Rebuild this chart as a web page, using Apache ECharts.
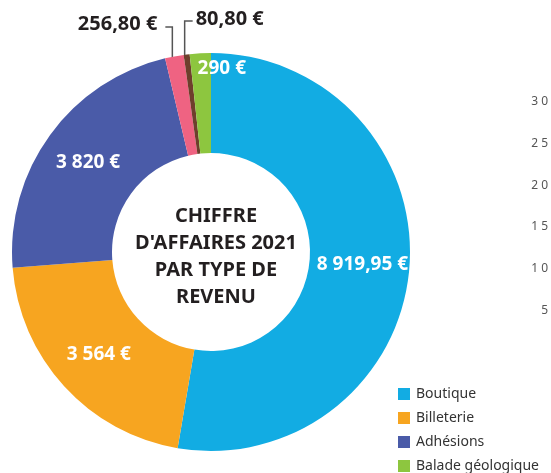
<!DOCTYPE html>
<html>
<head>
<meta charset="utf-8">
<script src="https://cdn.jsdelivr.net/npm/echarts@6/dist/echarts.min.js"></script>
<style>
  html, body { margin: 0; padding: 0; background: #fff; }
  #chart { width: 551px; height: 473px; }
</style>
</head>
<body>
<div id="chart"></div>
<script>
// données du chiffre d'affaires 2021
var categories = ['Boutique', 'Billeterie', 'Adhésions', 'Dons', 'Divers', 'Balade géologique'];
var values = [8919.95, 3564, 3820, 256.80, 80.80, 290];
var labels = ['8 919,95 €', '3 564 €', '3 820 €', '256,80 €', '80,80 €', '290 €'];
var legendOrder = ['Boutique', 'Billeterie', 'Adhésions', 'Balade géologique', 'Dons', 'Divers'];
// axe d'un autre graphique, coupé à droite
var axisTicks = [0, 5, 10, 15, 20, 25, 30];

var colors = ['#12ace3', '#f7a520', '#4a5ba8', '#ef6382', '#6e3f2c', '#8dc63f'];
var font = 'Noto Sans';

var myChart = echarts.init(document.getElementById('chart'));

var pieData = values.map(function (v, i) {
  var item = { name: categories[i], value: v, itemStyle: { color: colors[i] } };
  if (i === 3 || i === 4) {
    item.label = { position: 'outside', color: '#231f20', fontSize: 20 };
    item.labelLine = { show: true };
  }
  if (i === 5) {
    item.label = { offset: [19, -32] };
  }
  return item;
});

myChart.setOption({
  backgroundColor: '#fff',
  animation: false,
  title: {
    text: "CHIFFRE\nD'AFFAIRES 2021\nPAR TYPE DE\nREVENU",
    left: 211,
    top: 252,
    textAlign: 'center',
    textVerticalAlign: 'middle',
    textStyle: {
      fontFamily: font,
      fontWeight: 'bold',
      fontSize: 20,
      lineHeight: 27,
      color: '#231f20'
    }
  },
  legend: {
    orient: 'vertical',
    left: 393,
    top: 382,
    height: 200,
    itemWidth: 12,
    itemHeight: 12,
    itemGap: 10,
    icon: 'rect',
    data: legendOrder,
    textStyle: { fontFamily: font, fontSize: 14, color: '#333', padding: [0, 0, 0, 1] }
  },
  grid: { left: 550, top: 102, height: 250, width: 1 },
  xAxis: { type: 'value', show: false, min: 0, max: 1 },
  yAxis: {
    type: 'value',
    min: axisTicks[0],
    max: axisTicks[axisTicks.length - 1],
    interval: 5,
    axisLine: { show: false },
    axisTick: { show: false },
    splitLine: { show: false },
    axisLabel: {
      margin: 2,
      fontFamily: font,
      fontSize: 12,
      color: '#555',
      formatter: function (v) {
        return v === 0 ? '' : String(v).split('').join(' ');
      }
    }
  },
  series: [{
    type: 'pie',
    center: [211, 252],
    radius: [99, 199],
    startAngle: 90,
    clockwise: true,
    avoidLabelOverlap: false,
    label: {
      show: true,
      position: 'inside',
      fontFamily: font,
      fontWeight: 'bold',
      fontSize: 19,
      color: '#fff',
      formatter: function (p) { return labels[p.dataIndex]; }
    },
    labelLine: { show: false, lineStyle: { color: '#555', width: 1.5 } },
    labelLayout: function (params) {
      var pts = params.labelLinePoints;
      if (!pts) return {};
      var p = pts[0];
      if (params.dataIndex === 3) {
        return {
          x: p[0] - 17, y: 24, align: 'right', verticalAlign: 'middle',
          labelLinePoints: [[p[0] - 2, p[1] + 6], [p[0] - 2, 27], [p[0] - 9, 27]]
        };
      }
      if (params.dataIndex === 4) {
        return {
          x: p[0] + 9, y: 19, align: 'left', verticalAlign: 'middle',
          labelLinePoints: [[p[0] - 2, p[1] + 4], [p[0] - 2, 21], [p[0] + 6, 21]]
        };
      }
      return {};
    },
    data: pieData
  }]
});
</script>
</body>
</html>
